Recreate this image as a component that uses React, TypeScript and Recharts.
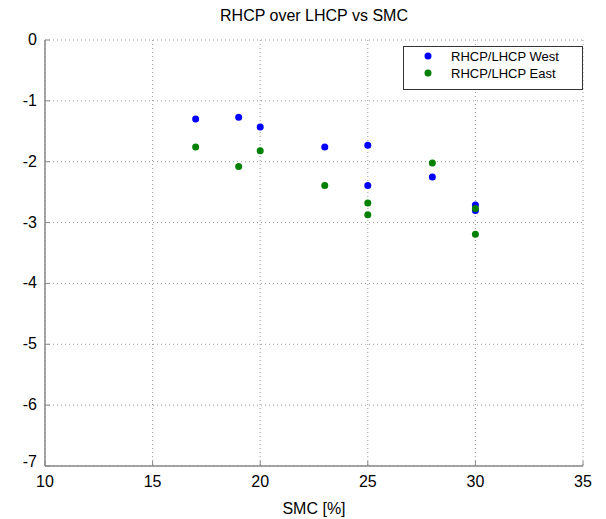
import React from 'react';
import { ScatterChart, Scatter, XAxis, YAxis, CartesianGrid } from 'recharts';

const westSMC = [17, 19, 20, 23, 25, 25, 28, 30, 30];
const westRatio = [-1.30, -1.27, -1.43, -1.76, -1.73, -2.39, -2.25, -2.71, -2.80];
const eastSMC = [17, 19, 20, 23, 25, 25, 28, 30, 30];
const eastRatio = [-1.76, -2.08, -1.82, -2.39, -2.68, -2.87, -2.02, -2.77, -3.19];
const xTicks = [10, 15, 20, 25, 30, 35];
const yTicks = [-7, -6, -5, -4, -3, -2, -1, 0];
const seriesNames = ['RHCP/LHCP West', 'RHCP/LHCP East'];
const seriesColors = ['#0000ff', '#008000'];

const westData = westSMC.map((x, i) => ({ x, y: westRatio[i] }));
const eastData = eastSMC.map((x, i) => ({ x, y: eastRatio[i] }));

const FONT = '"Liberation Sans", Arial, sans-serif';
const TM = 8;
const AXIS = '#888';

const YTick = (props: any) => {
  const { x, y, payload } = props;
  const ax = x + TM;
  return (
    <g>
      <line x1={ax} x2={ax + 5} y1={y} y2={y} stroke={AXIS} strokeWidth={1} />
      <text x={x} y={payload.value === -7 ? y - 4 : y} dy={5} textAnchor="end" fill="#000" fontSize={16} fontFamily={FONT}>
        {payload.value}
      </text>
    </g>
  );
};

const XTick = (props: any) => {
  const { x, y, payload } = props;
  const ay = y - TM;
  return (
    <g>
      <line x1={x} x2={x} y1={ay} y2={ay - 5} stroke={AXIS} strokeWidth={1} />
      <text x={x} y={y} dy={13} textAnchor="middle" fill="#000" fontSize={16} fontFamily={FONT}>
        {payload.value}
      </text>
    </g>
  );
};

export default function App() {
  return (
    <div style={{ position: 'absolute', left: 0, top: 0, width: 606, height: 519, background: '#fff' }}>
      <ScatterChart width={606} height={519} margin={{ top: 40, right: 23, left: 5, bottom: 23 }}>
        <text x={314} y={21} textAnchor="middle" fontSize={16} fontFamily={FONT} fill="#000">
          RHCP over LHCP vs SMC
        </text>
        <text x={314} y={514} textAnchor="middle" fontSize={16} fontFamily={FONT} fill="#000">
          SMC [%]
        </text>
        <CartesianGrid stroke="#999" strokeDasharray="1 3" strokeWidth={1} />
        <XAxis
          type="number"
          dataKey="x"
          domain={[10, 35]}
          ticks={xTicks}
          interval={0}
          height={30}
          tickLine={false}
          tickSize={0}
          tickMargin={TM}
          axisLine={{ stroke: AXIS, strokeWidth: 1.5 }}
          tick={<XTick />}
          allowDataOverflow
        />
        <YAxis
          type="number"
          dataKey="y"
          domain={[-7, 0]}
          ticks={yTicks}
          interval={0}
          width={40}
          tickLine={false}
          tickSize={0}
          tickMargin={TM}
          axisLine={{ stroke: AXIS, strokeWidth: 1.5 }}
          tick={<YTick />}
          allowDataOverflow
        />
        <Scatter name={seriesNames[0]} data={westData} fill={seriesColors[0]} isAnimationActive={false}
          shape={(p: any) => <circle cx={p.cx} cy={p.cy} r={3.5} fill={seriesColors[0]} />} />
        <Scatter name={seriesNames[1]} data={eastData} fill={seriesColors[1]} isAnimationActive={false}
          shape={(p: any) => <circle cx={p.cx} cy={p.cy} r={3.5} fill={seriesColors[1]} />} />
        <g>
          <rect x={403.5} y={46.5} width={179} height={43} fill="#fff" stroke="#333" strokeWidth={1} />
          {seriesNames.map((n, i) => (
            <g key={n}>
              <circle cx={428} cy={56 + i * 17} r={3.5} fill={seriesColors[i]} />
              <text x={451} y={56 + i * 17} dy={4.5} fontSize={13} fontFamily={FONT} fill="#000">
                {n}
              </text>
            </g>
          ))}
        </g>
      </ScatterChart>
    </div>
  );
}
